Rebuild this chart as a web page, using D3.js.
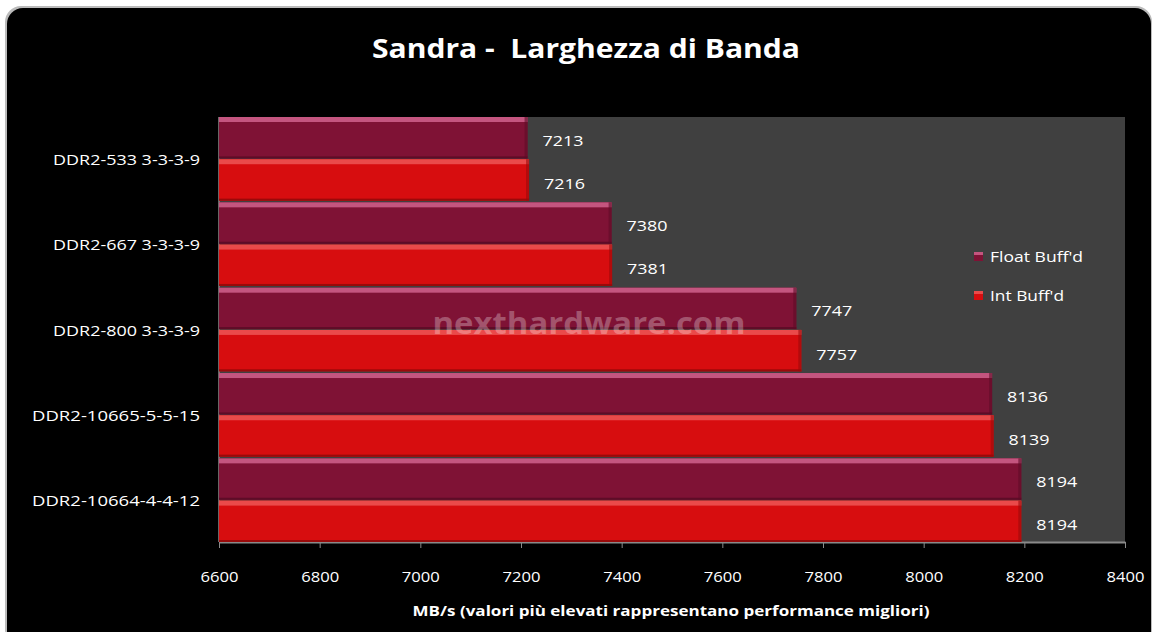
<!DOCTYPE html>
<html>
<head>
<meta charset="utf-8">
<script src="https://cdn.jsdelivr.net/npm/d3@7"></script>
<style>
  html, body { margin: 0; padding: 0; background: #fff; }
  svg { display: block; }
</style>
</head>
<body>
<div id="chart"></div>
<script>
// data
const categories = ["DDR2-533 3-3-3-9", "DDR2-667 3-3-3-9", "DDR2-800 3-3-3-9", "DDR2-1066 5-5-5-15", "DDR2-1066 4-4-4-12"];
const categoryLabels = ["DDR2-533 3-3-3-9", "DDR2-667 3-3-3-9", "DDR2-800 3-3-3-9", "DDR2-10665-5-5-15", "DDR2-10664-4-4-12"];
const floatBuff = [7213, 7380, 7747, 8136, 8194];
const intBuff = [7216, 7381, 7757, 8139, 8194];
const seriesNames = ["Float Buff'd", "Int Buff'd"];
const xTicks = [6600, 6800, 7000, 7200, 7400, 7600, 7800, 8000, 8200, 8400];

const width = 1157, height = 632;
const plot = { left: 219, right: 1125, top: 117, bottom: 542 };
const font = "'Open Sans', 'DejaVu Sans', sans-serif";

const colors = {
    float: { body: "#7f1235", top: "#c4557f", bottom: "#5e0c27" },
    int: { body: "#d70d0f", top: "#ea4a4a", bottom: "#9a0a0a" }
};

const svg = d3.select("#chart")
    .append("svg")
    .attr("width", width)
    .attr("height", height)
    .attr("viewBox", [0, 0, width, height]);

// black panel with rounded corners and a faint shadow
svg.append("rect")
    .attr("x", 5).attr("y", 6)
    .attr("width", 1147).attr("height", 640)
    .attr("rx", 16)
    .attr("fill", "#bbb");
svg.append("rect")
    .attr("x", 7).attr("y", 8)
    .attr("width", 1144).attr("height", 640)
    .attr("rx", 16)
    .attr("fill", "#000");

// title
svg.append("text")
    .attr("x", 586).attr("y", 58)
    .attr("text-anchor", "middle")
    .attr("fill", "#fff")
    .style("font-family", font)
    .style("font-weight", "bold")
    .style("font-size", "27px")
    .style("white-space", "pre")
    .attr("textLength", 428)
    .attr("lengthAdjust", "spacingAndGlyphs")
    .text("Sandra -  Larghezza di Banda");

const xScale = d3.scaleLinear().domain([6600, 8400]).range([plot.left, plot.right]);
const yScale = d3.scaleBand().domain(categories).range([plot.top, plot.bottom]).paddingInner(0.02).paddingOuter(0);
const sub = d3.scaleBand().domain(["float", "int"]).range([0, yScale.bandwidth()]).paddingInner(0.02);

// plot area
svg.append("rect")
    .attr("x", plot.left).attr("y", plot.top)
    .attr("width", plot.right - plot.left).attr("height", plot.bottom - plot.top)
    .attr("fill", "#404040");

// x axis
const xAxis = svg.append("g")
    .attr("transform", `translate(0,${plot.bottom})`)
    .call(d3.axisBottom(xScale).tickValues(xTicks).tickSize(6).tickSizeOuter(0).tickPadding(24).tickFormat(d3.format("d")));
xAxis.select(".domain").attr("stroke", "#8a8a8a").attr("stroke-width", 2);
xAxis.selectAll(".tick line").attr("stroke", "#8a8a8a");
xAxis.selectAll(".tick text")
    .attr("fill", "#fff")
    .style("font-family", font)
    .style("font-size", "14px")
    .attr("textLength", 38)
    .attr("lengthAdjust", "spacingAndGlyphs");

// left axis line
svg.append("line")
    .attr("x1", plot.left).attr("x2", plot.left)
    .attr("y1", plot.top).attr("y2", plot.bottom)
    .attr("stroke", "#8a8a8a").attr("stroke-width", 1.5);

// category labels
svg.append("g")
    .selectAll("text")
    .data(categories)
    .join("text")
    .attr("x", 200)
    .attr("y", d => yScale(d) + yScale.bandwidth() / 2 + 6)
    .attr("text-anchor", "end")
    .attr("fill", "#fff")
    .style("font-family", font)
    .style("font-size", "14px")
    .attr("textLength", (d, i) => i < 3 ? 147 : 168)
    .attr("lengthAdjust", "spacingAndGlyphs")
    .text((d, i) => categoryLabels[i]);

// bars
const rows = [];
categories.forEach((c, i) => {
    rows.push({ cat: c, key: "float", value: floatBuff[i] });
    rows.push({ cat: c, key: "int", value: intBuff[i] });
});

const bar = svg.append("g")
    .selectAll("g")
    .data(rows)
    .join("g")
    .attr("transform", d => `translate(${plot.left},${yScale(d.cat) + sub(d.key)})`);

bar.append("rect")
    .attr("width", d => xScale(d.value) - plot.left)
    .attr("height", sub.bandwidth())
    .attr("fill", d => colors[d.key].body);

bar.append("rect")
    .attr("width", d => xScale(d.value) - plot.left)
    .attr("height", 5)
    .attr("fill", d => colors[d.key].top);

bar.append("rect")
    .attr("y", sub.bandwidth() - 2)
    .attr("width", d => xScale(d.value) - plot.left)
    .attr("height", 2)
    .attr("fill", d => colors[d.key].bottom);

bar.append("rect")
    .attr("x", d => xScale(d.value) - plot.left - 3)
    .attr("width", 3)
    .attr("height", sub.bandwidth())
    .attr("fill", d => colors[d.key].bottom)
    .attr("opacity", 0.6);

// value labels
bar.append("text")
    .attr("x", d => xScale(d.value) - plot.left + 15)
    .attr("y", d => sub.bandwidth() / 2 + (d.key === "int" ? 9 : 8))
    .attr("fill", "#fff")
    .style("font-family", font)
    .style("font-size", "14px")
    .attr("textLength", 41)
    .attr("lengthAdjust", "spacingAndGlyphs")
    .text(d => d.value);

// watermark
svg.append("text")
    .attr("x", 589).attr("y", 334)
    .attr("text-anchor", "middle")
    .attr("fill", "#fff")
    .attr("fill-opacity", 0.28)
    .style("font-family", font)
    .style("font-weight", "bold")
    .style("font-size", "30px")
    .attr("textLength", 313)
    .attr("lengthAdjust", "spacingAndGlyphs")
    .text("nexthardware.com");

// legend
const legend = svg.append("g")
    .selectAll("g")
    .data(seriesNames)
    .join("g")
    .attr("transform", (d, i) => `translate(974,${252 + i * 39})`);

legend.append("rect")
    .attr("width", 9).attr("height", 9)
    .attr("fill", (d, i) => i === 0 ? colors.float.body : colors.int.body);
legend.append("rect")
    .attr("width", 9).attr("height", 3)
    .attr("fill", (d, i) => i === 0 ? colors.float.top : colors.int.top);

legend.append("text")
    .attr("x", 16).attr("y", 10)
    .attr("fill", "#fff")
    .style("font-family", font)
    .style("font-size", "14px")
    .attr("textLength", (d, i) => i === 0 ? 93 : 74)
    .attr("lengthAdjust", "spacingAndGlyphs")
    .text(d => d);

// axis title
svg.append("text")
    .attr("x", 671).attr("y", 616)
    .attr("text-anchor", "middle")
    .attr("fill", "#fff")
    .style("font-family", font)
    .style("font-weight", "bold")
    .style("font-size", "14px")
    .attr("textLength", 517)
    .attr("lengthAdjust", "spacingAndGlyphs")
    .text("MB/s (valori più elevati rappresentano performance migliori)");
</script>
</body>
</html>
